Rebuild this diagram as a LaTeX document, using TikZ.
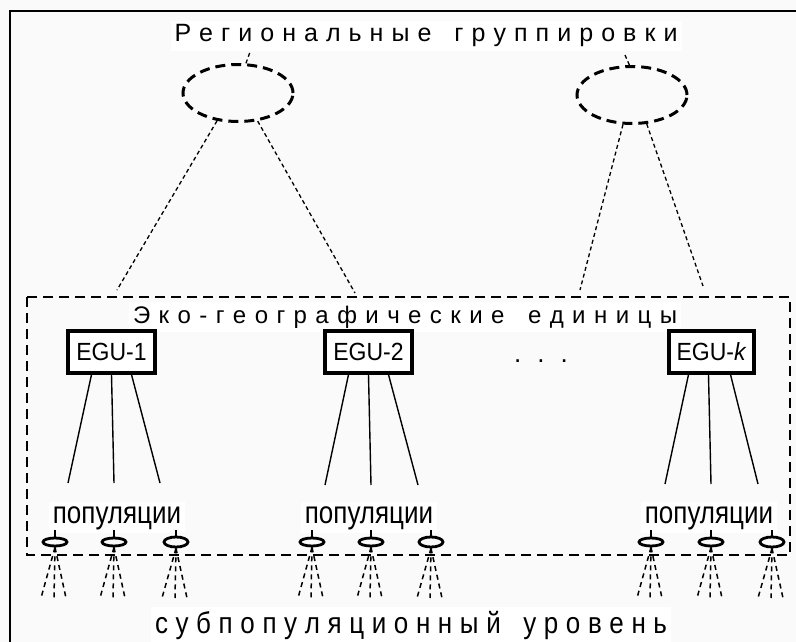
\documentclass[tikz,border=0pt]{standalone}
\usepackage{fontspec}
\setmainfont{Liberation Sans}
\usetikzlibrary{shapes.geometric}
\makeatletter
\newcommand\spreadbox[2]{\makebox[#1][s]{\@tfor\spr@tok:=#2\do{\spr@tok\hfil}\unskip}}
\makeatother
\definecolor{bgpaper}{RGB}{250,250,250}
\begin{document}
\begin{tikzpicture}[x=1pt,y=-1pt,
  reg/.style={ellipse, draw, line width=3pt, dash pattern=on 10pt off 6pt,
    minimum width=110pt, minimum height=57pt, inner sep=0pt},
  link/.style={line width=1.3pt, dash pattern=on 4pt off 3pt},
  egu/.style={draw, line width=3.2pt, minimum width=87pt, minimum height=42pt,
    inner sep=0pt, fill=white, font=\fontsize{23}{27}\selectfont},
  branch/.style={line width=1.4pt},
  pop/.style={ellipse, draw, line width=2.8pt, minimum width=24pt,
    minimum height=8pt, inner sep=0pt},
  tick/.style={line width=1.2pt},
  fan/.style={line width=1.5pt, dash pattern=on 5pt off 4pt},
  ecobox/.style={line width=2pt, dash pattern=on 10pt off 6pt},
  label/.style={fill=white, inner sep=4pt, anchor=base},
  frame/.style={line width=2pt}]
\useasboundingbox (0,0) rectangle (796,642);
\fill[bgpaper] (0,0) rectangle (796,642);
\draw[frame] (10,642) -- (10,11) -- (796,11);

% titles
\node[label, font=\fontsize{25}{30}\selectfont] (title) at (426,42)
  {\spreadbox{503pt}{Региональные~группировки}};
\node[label, font=\fontsize{26}{31}\selectfont] (sub) at (411,633)
  {\scalebox{1}[1.15]{\spreadbox{512pt}{субпопуляционный~уровень}}};

% eco-geographic units frame
\draw[ecobox] (27,297) rectangle (790,555);
\node[label, font=\fontsize{24}{29}\selectfont] (ecotitle) at (405,323)
  {\spreadbox{544pt}{Эко-географические~единицы}};

% regional groupings
\node[reg] (regL) at (238,93) {};
\node[reg] (regR) at (632,95) {};
\coordinate (tL) at (250,52);
\coordinate (tR) at (625,55);
\draw[link] (regL.75) -- (tL);
\draw[link] (regR.95) -- (tR);
\coordinate (aL1) at (117,290);
\coordinate (aL2) at (355,293);
\coordinate (aR1) at (580,290);
\coordinate (aR2) at (703,286);
\draw[link] (regL.233) -- (aL1);
\draw[link] (regL.305) -- (aL2);
\draw[link] (regR.253) -- (aR1);
\draw[link] (regR.297) -- (aR2);

% EGU boxes
\node[egu] (egu1) at (111.5,352) {\scalebox{1}[1.08]{EGU-1}};
\node[egu] (egu2) at (368.5,352) {\scalebox{1}[1.08]{EGU-2}};
\node[egu, minimum width=85pt] (eguk) at (711.5,352) {\scalebox{1}[1.08]{EGU-\textit{k}}};
\node[font=\fontsize{26}{31}\selectfont, anchor=base] (dots) at (541,362)
  {.\hspace{16pt}.\hspace{16pt}.};

% branches
\coordinate (b11) at (68,483);  \coordinate (b12) at (114,483); \coordinate (b13) at (160,483);
\coordinate (b21) at (325,485); \coordinate (b22) at (371,485); \coordinate (b23) at (418,485);
\coordinate (b31) at (665,484); \coordinate (b32) at (711,484); \coordinate (b33) at (758,484);
\draw[branch] ([xshift=-20pt]egu1.south) -- (b11);
\draw[branch] (egu1.south) -- (b12);
\draw[branch] ([xshift=20pt]egu1.south) -- (b13);
\draw[branch] ([xshift=-20pt]egu2.south) -- (b21);
\draw[branch] (egu2.south) -- (b22);
\draw[branch] ([xshift=20pt]egu2.south) -- (b23);
\draw[branch] ([xshift=-23pt]eguk.south) -- (b31);
\draw[branch] ([xshift=-3pt]eguk.south) -- (b32);
\draw[branch] ([xshift=19pt]eguk.south) -- (b33);

% population labels
\node[label, font=\fontsize{26}{31}\selectfont] (pl1) at (117,523) {\scalebox{1}[1.2]{популяции}};
\node[label, font=\fontsize{26}{31}\selectfont] (pl2) at (369,523) {\scalebox{1}[1.2]{популяции}};
\node[label, font=\fontsize{26}{31}\selectfont] (pl3) at (709,523) {\scalebox{1}[1.2]{популяции}};

% populations with subpopulation fans
\foreach \n/\x/\h in {1/55/8, 2/114/8, 3/176/10, 4/312/8, 5/371/8, 6/431/10,
                      7/651/8, 8/711/8, 9/772/10} {
  \node[pop, minimum height=\h pt] (p\n) at (\x,542) {};
  \coordinate (pt\n) at (\x,530);
  \draw[tick] (p\n.north) -- (pt\n);
  \coordinate (f\n a) at (\x-14,598);
  \coordinate (f\n b) at (\x-1,598);
  \coordinate (f\n c) at (\x+11,598);
  \draw[fan] (p\n.south) -- (f\n a);
  \draw[fan] (p\n.south) -- (f\n b);
  \draw[fan] (p\n.south) -- (f\n c);
}
\end{tikzpicture}
\end{document}
